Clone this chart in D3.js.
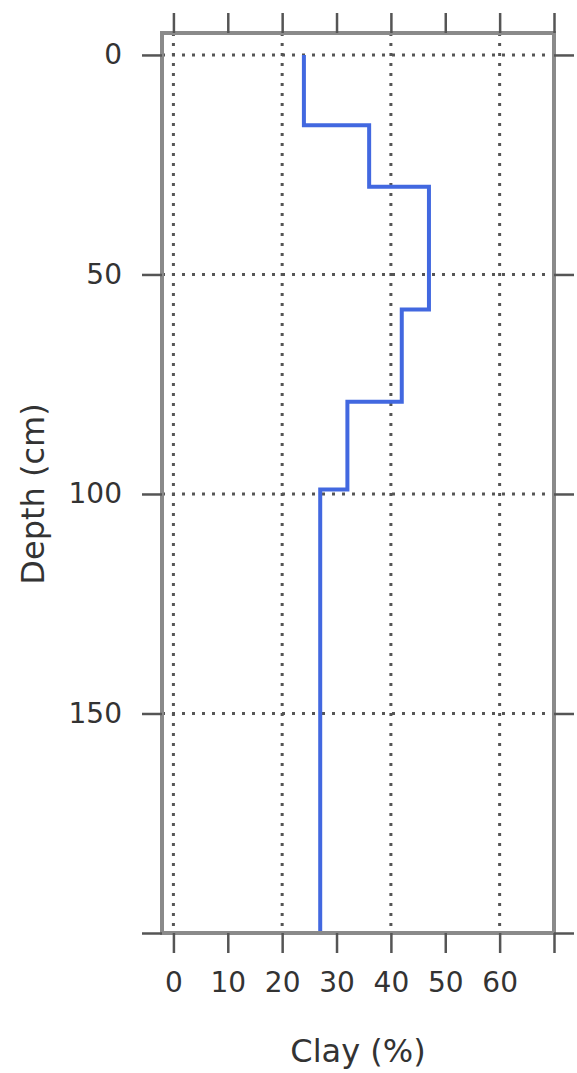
<!DOCTYPE html>
<html>
<head>
<meta charset="utf-8">
<script src="https://cdn.jsdelivr.net/npm/d3@7"></script>
<style>
  body { margin: 0; background: #fff; }
  .axis text { font-family: "DejaVu Sans", sans-serif; font-size: 28px; fill: #333; }
  .axis line { stroke: #555; stroke-width: 2.5; }
  .axis path { display: none; }
</style>
</head>
<body>
<div class="profileChart"></div>
<script>
// clay profile: horizon top/bottom depth (cm) and clay content (%)
var depthTop = [0, 16, 30, 58, 79, 99];
var depthBottom = [16, 30, 58, 79, 99, 200];
var clay = [24, 36, 47, 42, 32, 27];

var xTicks = [0, 10, 20, 30, 40, 50, 60, 70];
var xLabels = [0, 10, 20, 30, 40, 50, 60];
var yTicks = [0, 50, 100, 150, 200];
var yLabels = [0, 50, 100, 150];
var xGrid = [0, 20, 40, 60];
var yGrid = [0, 50, 100, 150];

var margin = { top: 33, right: 23, bottom: 140, left: 162 },
    width = 577 - margin.left - margin.right,
    height = 1073 - margin.top - margin.bottom;

var svg = d3.select(".profileChart").append("svg")
    .attr("width", 577)
    .attr("height", 1073);

var g = svg.append("g")
    .attr("transform", "translate(" + margin.left + "," + margin.top + ")");

var x = d3.scaleLinear().domain([-2.1, 70]).range([0, width]);
var y = d3.scaleLinear().domain([-5, 200]).range([0, height]);

// dotted grid
g.selectAll(".vgrid")
    .data(xGrid)
    .enter().append("line")
    .attr("x1", function (d) { return x(d); })
    .attr("x2", function (d) { return x(d); })
    .attr("y1", 0)
    .attr("y2", height)
    .attr("stroke", "#555")
    .attr("stroke-width", 3)
    .attr("stroke-dasharray", "3,7");

g.selectAll(".hgrid")
    .data(yGrid)
    .enter().append("line")
    .attr("x1", 0)
    .attr("x2", width)
    .attr("y1", function (d) { return y(d); })
    .attr("y2", function (d) { return y(d); })
    .attr("stroke", "#555")
    .attr("stroke-width", 3)
    .attr("stroke-dasharray", "3,7");

// step line built from the horizons
var pts = [];
clay.forEach(function (c, i) {
    pts.push([c, depthTop[i]]);
    pts.push([c, depthBottom[i]]);
});

g.append("path")
    .datum(pts)
    .attr("fill", "none")
    .attr("stroke", "#4268e0")
    .attr("stroke-width", 4)
    .attr("d", d3.line()
        .x(function (d) { return x(d[0]); })
        .y(function (d) { return y(d[1]); }));

// frame
g.append("rect")
    .attr("width", width)
    .attr("height", height)
    .attr("fill", "none")
    .attr("stroke", "#8a8a8a")
    .attr("stroke-width", 4);

function fmt(list) {
    return function (d) { return list.indexOf(d) >= 0 ? d : ""; };
}

g.append("g")
    .attr("class", "axis")
    .call(d3.axisTop(x).tickValues(xTicks).tickSize(20).tickFormat(""));

g.append("g")
    .attr("class", "axis")
    .attr("transform", "translate(0," + height + ")")
    .call(d3.axisBottom(x).tickValues(xTicks).tickSize(20).tickPadding(19).tickFormat(fmt(xLabels)));

g.append("g")
    .attr("class", "axis")
    .call(d3.axisLeft(y).tickValues(yTicks).tickSize(20).tickPadding(20).tickFormat(fmt(yLabels)));

g.append("g")
    .attr("class", "axis")
    .attr("transform", "translate(" + width + ",0)")
    .call(d3.axisRight(y).tickValues(yTicks).tickSize(20).tickFormat(""));

// axis titles
svg.append("text")
    .attr("x", margin.left + width / 2)
    .attr("y", 1062)
    .attr("text-anchor", "middle")
    .style("font-family", "DejaVu Sans, sans-serif")
    .style("font-size", "32px")
    .style("fill", "#333")
    .text("Clay (%)");

svg.append("text")
    .attr("transform", "translate(44," + (margin.top + y(100)) + ") rotate(-90)")
    .attr("text-anchor", "middle")
    .style("font-family", "DejaVu Sans, sans-serif")
    .style("font-size", "32px")
    .style("fill", "#333")
    .text("Depth (cm)");
</script>
</body>
</html>
